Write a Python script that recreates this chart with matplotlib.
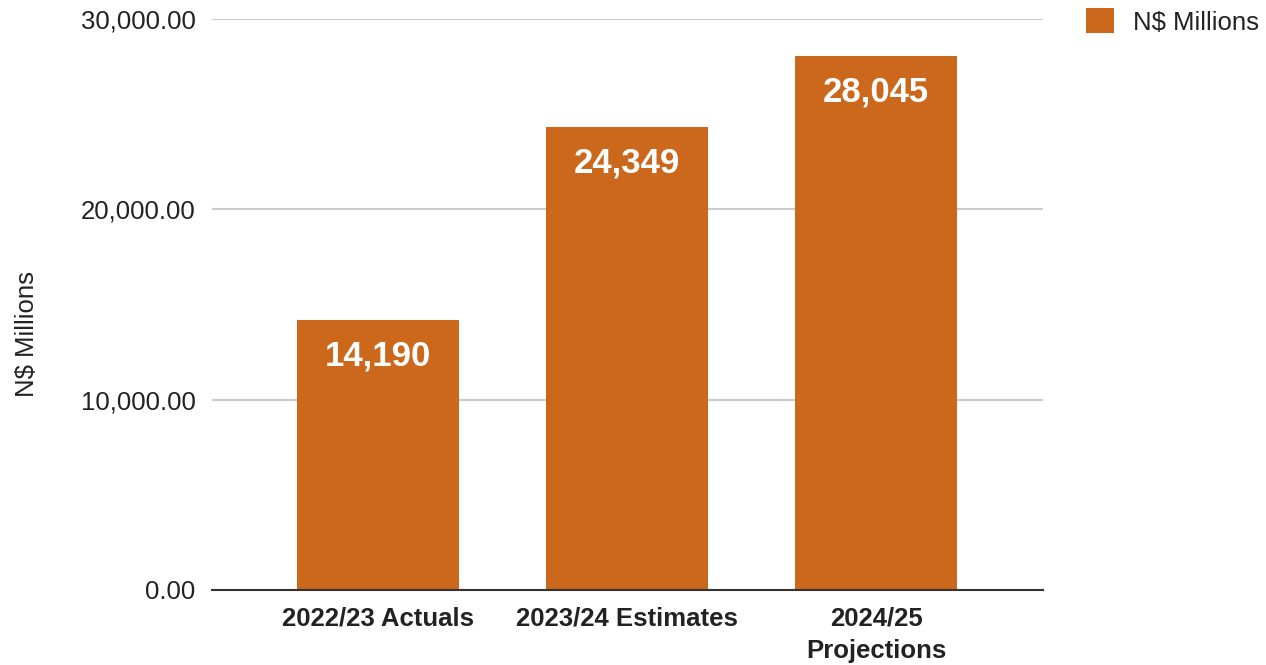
import matplotlib.pyplot as plt

categories = ["2022/23 Actuals", "2023/24 Estimates", "2024/25\nProjections"]
values = [14190, 24349, 28045]
yticks = [0, 10000, 20000, 30000]

plt.rcParams['font.family'] = ['Liberation Sans', 'DejaVu Sans']

fig = plt.figure(figsize=(12.66, 6.65), dpi=100)
ax = fig.add_axes([0.1675, 0.1128, 0.6564, 0.8586])

color = '#CC681C'
x = range(len(categories))
bars = ax.bar(x, values, width=0.65, color=color, label='N$ Millions', zorder=3)

for b, v in zip(bars, values):
    ax.annotate(f"{v:,}", (b.get_x() + b.get_width() / 2, v),
                xytext=(0, -26), textcoords='offset points',
                ha='center', va='center', color='white',
                fontsize=25, fontweight='bold', zorder=4)

ax.set_xlim(-0.667, 2.67)
ax.set_ylim(0, 30000)
ax.set_yticks(yticks)
ax.set_yticklabels([f"{t:,.2f}" for t in yticks], fontsize=18.5, color='#222222')
ax.set_xticks(list(x))
ax.set_xticklabels(categories, fontsize=18.5, fontweight='bold', color='#222222',
                   linespacing=1.45)
ax.tick_params(length=0, pad=12)
ax.tick_params(axis='y', pad=12)

ax.grid(axis='y', color='#cccccc', linewidth=1.5, zorder=0)
for s in ['top', 'right', 'left']:
    ax.spines[s].set_visible(False)
ax.spines['bottom'].set_color('#333333')
ax.spines['bottom'].set_linewidth(1.5)
ax.spines['bottom'].set_zorder(5)

ax.set_ylabel("N$ Millions", fontsize=18.5, color='#222222')
ax.yaxis.set_label_coords(-0.208, 0.449)

fig.legend(loc='upper left', bbox_to_anchor=(0.8395, 1.022), frameon=False,
           fontsize=18.5, handlelength=1.1, handleheight=1.1, handletextpad=0.75,
           labelcolor='#222222')

fig.savefig('out.png', dpi=100)
